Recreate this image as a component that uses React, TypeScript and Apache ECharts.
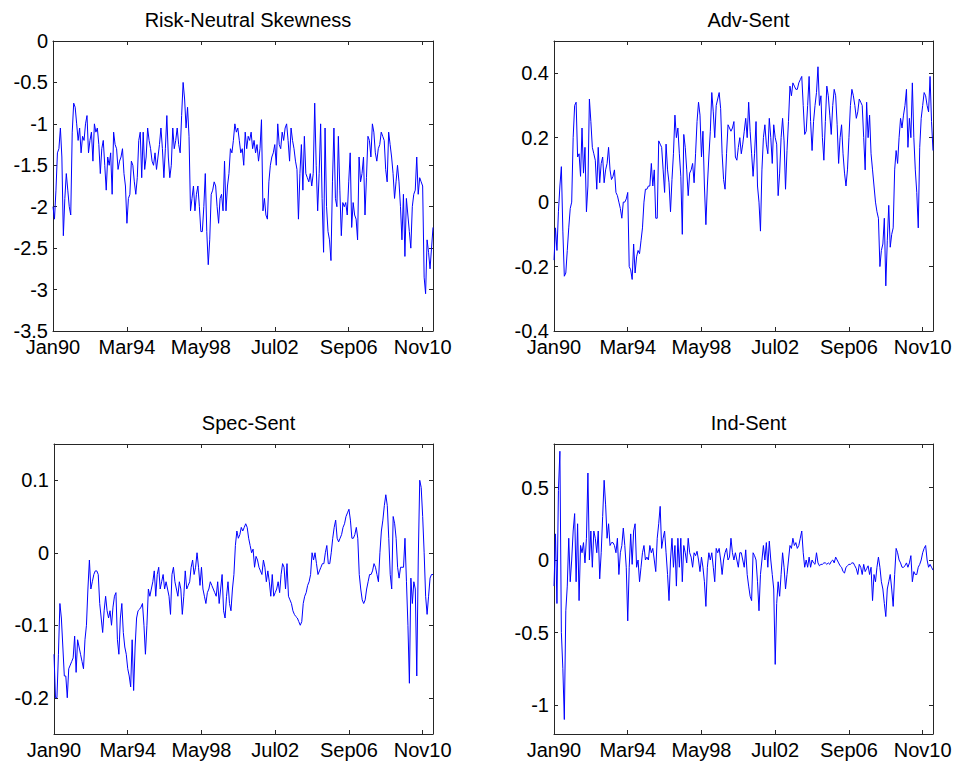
import React, { useEffect, useRef } from 'react';
import * as echarts from 'echarts';

// Monthly observations, Jan 1990 (index 0) to Jun 2011 (index 257)
const lastMonth = 257;
const tickMonths = [0, 50, 100, 150, 200, 250];
const tickLabels = ['Jan90', 'Mar94', 'May98', 'Jul02', 'Sep06', 'Nov10'];

const titles = ['Risk-Neutral Skewness', 'Adv-Sent', 'Spec-Sent', 'Ind-Sent'];

const skewness = [
  -2.0, -2.15, -1.8, -1.35, -1.3, -1.05, -1.4, -2.35, -1.9, -1.6,
  -1.8, -2.0, -2.1, -1.1, -0.75, -0.8, -1.0, -1.2, -1.05, -1.35,
  -1.15, -1.2, -1.0, -0.9, -1.35, -1.2, -1.1, -1.45, -1.0, -1.1,
  -1.05, -1.25, -1.6, -1.3, -1.2, -1.5, -1.8, -1.4, -1.5, -1.35,
  -1.85, -1.1, -1.25, -1.3, -1.55, -1.45, -1.4, -1.3, -1.6, -1.75,
  -2.2, -1.9, -1.85, -1.45, -1.5, -1.7, -1.85, -1.65, -1.2, -1.1,
  -1.65, -1.1, -1.55, -1.4, -1.05, -1.2, -1.3, -1.45, -1.5, -1.35,
  -1.55, -1.4, -1.25, -1.05, -1.3, -1.65, -1.3, -0.9, -1.4, -1.65,
  -1.5, -1.05, -1.3, -1.2, -1.05, -1.25, -1.35, -0.9, -0.5, -0.7,
  -1.05, -0.8, -1.15, -2.05, -1.9, -1.75, -2.05, -1.85, -1.75, -2.0,
  -2.3, -2.3, -2.0, -1.6, -2.3, -2.7, -2.4, -1.85, -1.8, -1.7,
  -1.75, -2.0, -2.2, -1.9, -1.85, -2.05, -1.45, -2.05, -1.75, -1.6,
  -1.3, -1.35, -1.2, -1.0, -1.1, -1.05, -1.2, -1.35, -1.3, -1.5,
  -1.1, -1.3, -1.15, -1.2, -1.1, -1.3, -1.2, -1.35, -1.25, -1.45,
  -1.3, -0.95, -2.05, -1.9, -2.1, -2.15, -1.7, -1.5, -1.4, -1.35,
  -1.25, -1.5, -1.0, -1.25, -1.3, -1.1, -1.2, -1.05, -1.0, -1.2,
  -1.45, -1.05, -1.2, -1.3, -1.45, -1.55, -2.15, -1.6, -1.25, -1.8,
  -1.15, -1.6, -1.65, -1.7, -1.6, -1.75, -1.6, -0.75, -1.5, -2.05,
  -1.6, -1.0, -1.9, -2.55, -1.05, -2.0, -2.3, -2.4, -2.65, -1.7,
  -1.05, -1.9, -2.0, -1.15, -1.8, -2.35, -1.95, -2.0, -1.95, -2.1,
  -1.7, -1.35, -2.25, -1.95, -2.1, -2.15, -2.4, -1.4, -1.7, -1.6,
  -1.4, -2.1, -1.65, -1.15, -1.2, -1.4, -1.0, -1.1, -1.35, -1.45,
  -1.3, -1.25, -1.1, -1.15, -1.2, -1.55, -1.7, -1.1, -1.25, -1.4,
  -1.6, -1.9, -1.7, -1.5, -1.7, -2.0, -2.4, -1.85, -2.6, -1.9,
  -2.1, -2.3, -2.5, -2.0, -1.85, -1.8, -1.4, -1.85, -1.65, -1.7,
  -1.75, -2.85, -3.05, -2.4, -2.55, -2.75, -2.5, -2.25,
];

const advSent = [
  -0.18, -0.08, -0.15, -0.03, 0.05, 0.11, -0.09, -0.23, -0.22, -0.15,
  -0.08, -0.02, 0.0, 0.2, 0.3, 0.31, 0.14, 0.15, 0.08, 0.23,
  0.09, 0.17, -0.03, 0.05, 0.32, 0.25, 0.17, 0.15, 0.13, 0.04,
  0.17, 0.06, 0.12, 0.14, 0.06, 0.1, 0.12, 0.17, 0.1, 0.07,
  0.08, 0.1, 0.03, 0.02, 0.0, -0.02, -0.05, 0.0, 0.0, 0.01,
  0.03, -0.2, -0.21, -0.24, -0.13, -0.22, -0.17, -0.15, -0.16, -0.12,
  -0.08, 0.0, 0.04, 0.04, 0.05, 0.05, 0.12, 0.05, 0.1, -0.05,
  -0.05, 0.19, 0.18, 0.17, 0.1, 0.03, 0.18, 0.1, 0.06, -0.03,
  0.07, 0.15, 0.27, 0.2, 0.23, 0.15, 0.08, -0.1, 0.21, 0.17,
  0.1, 0.02, 0.09, 0.1, 0.12, 0.06, 0.15, 0.25, 0.31, 0.27,
  0.14, 0.22, 0.05, -0.07, 0.05, 0.14, 0.22, 0.34, 0.28, 0.2,
  0.3, 0.32, 0.34, 0.29, 0.15, 0.07, 0.04, 0.15, 0.24, 0.23,
  0.22, 0.23, 0.25, 0.14, 0.13, 0.17, 0.2, 0.15, 0.18, 0.22,
  0.26, 0.2, 0.31, 0.22, 0.15, 0.08, 0.15, 0.25, 0.05, 0.0,
  -0.09, 0.1, 0.2, 0.24, 0.18, 0.15, 0.26, 0.2, 0.12, 0.24,
  0.2, 0.18, 0.02, 0.09, 0.2, 0.26, 0.19, 0.04, 0.16, 0.25,
  0.36, 0.33, 0.37, 0.36, 0.35, 0.35, 0.37, 0.38, 0.39, 0.3,
  0.21, 0.22, 0.3, 0.39, 0.25, 0.16, 0.25, 0.3, 0.34, 0.42,
  0.3, 0.33, 0.2, 0.13, 0.25, 0.36, 0.33, 0.27, 0.21, 0.3,
  0.35, 0.33, 0.24, 0.12, 0.2, 0.24, 0.15, 0.09, 0.05, 0.1,
  0.2, 0.3, 0.35, 0.33, 0.3, 0.26, 0.28, 0.32, 0.31, 0.3,
  0.2, 0.1, 0.31, 0.2, 0.27, 0.15, 0.1, 0.05, 0.0, -0.03,
  -0.05, -0.2, -0.15, -0.13, -0.05, -0.26, -0.12, -0.01, -0.14, -0.1,
  -0.08, 0.1, 0.16, 0.12, 0.2, 0.26, 0.23, 0.27, 0.3, 0.35,
  0.17, 0.26, 0.2, 0.37, 0.2, 0.1, 0.03, -0.08, 0.17, 0.26,
  0.3, 0.34, 0.33, 0.3, 0.28, 0.39, 0.25, 0.16,
];

const specSent = [
  -0.14, -0.2, -0.2, -0.14, -0.07, -0.09, -0.13, -0.17, -0.17, -0.2,
  -0.16, -0.155, -0.15, -0.145, -0.115, -0.165, -0.12, -0.13, -0.14, -0.15,
  -0.16, -0.12, -0.1, -0.05, -0.01, -0.05, -0.04, -0.03, -0.025, -0.025,
  -0.03, -0.07, -0.09, -0.11, -0.08, -0.06, -0.08, -0.09, -0.08, -0.1,
  -0.075, -0.06, -0.055, -0.12, -0.14, -0.09, -0.07, -0.11, -0.13, -0.14,
  -0.16, -0.17, -0.185, -0.12, -0.19, -0.13, -0.09, -0.08, -0.078, -0.075,
  -0.07, -0.1, -0.14, -0.1, -0.05, -0.06, -0.05, -0.04, -0.025, -0.06,
  -0.03, -0.02, -0.05, -0.04, -0.03, -0.05, -0.04, -0.05, -0.06, -0.085,
  -0.03, -0.02, -0.04, -0.05, -0.06, -0.04, -0.05, -0.085, -0.06, -0.025,
  -0.05, -0.045, -0.04, -0.02, -0.01, -0.03, -0.02, 0.0, -0.02, -0.045,
  -0.02, -0.05, -0.06, -0.07, -0.055, -0.05, -0.04, -0.045, -0.05, -0.055,
  -0.06, -0.04, -0.07, -0.05, -0.03, -0.08, -0.09, -0.06, -0.04, -0.07,
  -0.08, -0.05, -0.03, 0.01, 0.03, 0.02, 0.025, 0.035, 0.03, 0.035,
  0.04, 0.035, 0.02, 0.01, 0.0, 0.005, -0.02, -0.005, -0.01, -0.02,
  -0.025, -0.03, -0.01, -0.02, -0.04, -0.025, -0.04, -0.06, -0.03, -0.06,
  -0.055, -0.05, -0.04, -0.055, -0.03, -0.015, -0.02, -0.05, -0.015, -0.06,
  -0.065, -0.07, -0.08, -0.085, -0.088, -0.09, -0.095, -0.1, -0.095, -0.07,
  -0.06, -0.055, -0.045, -0.04, -0.03, 0.0, -0.01, 0.0, -0.015, -0.03,
  -0.025, -0.02, -0.015, -0.015, 0.0, 0.01, -0.015, -0.015, 0.0, 0.02,
  0.035, 0.045, 0.02, 0.015, 0.02, 0.025, 0.035, 0.04, 0.05, 0.055,
  0.06, 0.045, 0.02, 0.02, 0.025, 0.035, 0.02, -0.03, -0.05, -0.065,
  -0.07, -0.065, -0.05, -0.04, -0.03, -0.03, -0.025, -0.015, -0.02, -0.03,
  -0.04, 0.0, 0.03, 0.045, 0.065, 0.08, 0.065, 0.02, -0.03, -0.05,
  0.05, 0.04, 0.02, -0.02, -0.035, -0.02, -0.02, -0.02, 0.02, -0.04,
  -0.1, -0.18, -0.035, -0.07, -0.04, -0.05, -0.17, -0.01, 0.1, 0.09,
  0.05, 0.0, -0.06, -0.085, -0.06, -0.035, -0.03, -0.03,
];

const indSent = [
  -0.18, 0.18, -0.3, 0.48, 0.75, -0.5, -0.75, -1.1, -0.35, -0.18,
  0.15, -0.15, 0.0, 0.2, 0.32, -0.15, 0.25, -0.28, 0.1, 0.05,
  0.12, -0.02, 0.15, 0.6, 0.0, 0.2, -0.05, 0.2, 0.15, 0.05,
  0.2, -0.13, 0.05, 0.3, 0.55, 0.38, 0.15, 0.25, 0.1, 0.12,
  0.12, 0.1, 0.05, 0.15, -0.1, 0.05, 0.1, 0.22, 0.1, -0.05,
  -0.42, -0.05, 0.18, -0.03, 0.2, 0.25, -0.05, 0.0, -0.15, -0.05,
  0.05, 0.1, 0.0, 0.02, 0.0, 0.1, 0.05, 0.08, 0.0, -0.08,
  0.15, 0.25, 0.37, 0.08, 0.15, 0.2, 0.05, -0.1, -0.28, 0.0,
  0.15, -0.05, 0.1, -0.18, 0.15, -0.05, 0.15, -0.15, 0.1, 0.05,
  -0.02, 0.15, 0.05, 0.02, -0.05, 0.05, 0.03, 0.06, 0.0, -0.08,
  0.02, -0.05, -0.15, -0.32, -0.05, 0.05, 0.0, 0.05, -0.05, -0.15,
  0.08, 0.05, 0.08, 0.0, -0.1, 0.0, 0.05, 0.08, 0.0, 0.02,
  0.15, 0.05, 0.0, 0.05, 0.0, -0.05, 0.05, 0.05, 0.0, -0.05,
  0.07, -0.1, -0.18, -0.25, -0.28, 0.05, 0.03, 0.0, -0.15, -0.35,
  -0.1, 0.0, 0.1, 0.0, 0.12, -0.05, 0.13, 0.0, -0.1, -0.2,
  -0.72, -0.3, -0.15, -0.25, -0.1, 0.05, -0.05, -0.2, -0.1, 0.0,
  0.1, 0.08, 0.15, 0.1, 0.12, 0.08, 0.1, 0.15, 0.2, 0.05,
  -0.05, 0.0, -0.05, 0.02, -0.05, 0.0, -0.02, -0.03, 0.05, -0.02,
  -0.04, -0.03, -0.03, -0.02, -0.02, -0.03, -0.02, -0.03, -0.01, 0.0,
  -0.02, 0.02, 0.0, -0.02, -0.04, -0.05, -0.08, -0.09, -0.05, -0.04,
  -0.03, -0.03, -0.02, -0.02, -0.04, -0.06, -0.1, -0.03, -0.05, -0.1,
  -0.03, -0.08, -0.06, -0.04, -0.1, -0.05, -0.28, -0.1, -0.15, -0.05,
  0.02, -0.05, -0.15, -0.2, -0.3, -0.39, -0.2, -0.15, -0.1, -0.2,
  -0.32, -0.1, 0.08, 0.05, 0.0, -0.02, -0.05, -0.05, -0.04, -0.02,
  -0.05, -0.02, 0.03, -0.15, -0.08, -0.1, -0.1, -0.05, -0.03, 0.0,
  0.05, 0.08, 0.1, 0.0, -0.05, -0.03, -0.05, -0.07,
];

const seriesList = [skewness, advSent, specSent, indSent];

const yTicks1 = [-3.5, -3, -2.5, -2, -1.5, -1, -0.5, 0];
const yTicks2 = [-0.4, -0.2, 0, 0.2, 0.4];
const yTicks3 = [-0.2, -0.1, 0, 0.1];
const yTicks4 = [-1, -0.5, 0, 0.5];
const yTickList = [yTicks1, yTicks2, yTicks3, yTicks4];
const yRanges = [
  [-3.5, 0],
  [-0.4, 0.5],
  [-0.25, 0.15],
  [-1.2, 0.8],
];

const FONT = '"Liberation Sans", Arial, Helvetica, sans-serif';
const AXIS_COLOR = '#262626';

const layout = [
  { left: 53, top: 41, width: 380, height: 290, titleTop: 5 },
  { left: 554, top: 41, width: 379, height: 290, titleTop: 5 },
  { left: 54, top: 444, width: 379, height: 290, titleTop: 408 },
  { left: 554, top: 444, width: 379, height: 290, titleTop: 408 },
];

function buildOption() {
  const grid: any[] = [];
  const xAxis: any[] = [];
  const yAxis: any[] = [];
  const series: any[] = [];
  const title: any[] = [];

  layout.forEach((p, i) => {
    grid.push({ left: p.left, top: p.top, width: p.width, height: p.height, containLabel: false, show: false });
    title.push({
      text: titles[i],
      left: p.left + p.width / 2,
      top: p.titleTop,
      textAlign: 'center',
      textStyle: { fontSize: 20, fontWeight: 'normal', color: '#000', fontFamily: FONT },
    });
    const axisLine = { show: true, onZero: false, lineStyle: { color: AXIS_COLOR, width: 1 } };
    const xTick = { show: true, inside: true, length: 4, customValues: tickMonths, lineStyle: { color: AXIS_COLOR, width: 1 } };
    xAxis.push({
      type: 'value', gridIndex: i, min: 0, max: lastMonth, position: 'bottom',
      axisLine, axisTick: xTick, splitLine: { show: false },
      axisLabel: {
        show: true, customValues: tickMonths, margin: 6, fontSize: 20, color: '#000', fontFamily: FONT,
        formatter: (v: number) => {
          const k = tickMonths.indexOf(v);
          return k >= 0 ? tickLabels[k] : '';
        },
      },
    });
    xAxis.push({
      type: 'value', gridIndex: i, min: 0, max: lastMonth, position: 'top',
      axisLine, axisTick: xTick, splitLine: { show: false }, axisLabel: { show: false },
    });
    const yt = yTickList[i];
    const yTick = { show: true, inside: true, length: 4, customValues: yt, lineStyle: { color: AXIS_COLOR, width: 1 } };
    yAxis.push({
      type: 'value', gridIndex: i, min: yRanges[i][0], max: yRanges[i][1], position: 'left',
      axisLine, axisTick: yTick, splitLine: { show: false },
      axisLabel: { show: true, customValues: yt, margin: 5, fontSize: 20, color: '#000', fontFamily: FONT },
    });
    yAxis.push({
      type: 'value', gridIndex: i, min: yRanges[i][0], max: yRanges[i][1], position: 'right',
      axisLine, axisTick: yTick, splitLine: { show: false }, axisLabel: { show: false },
    });
    series.push({
      type: 'line',
      xAxisIndex: 2 * i,
      yAxisIndex: 2 * i,
      data: seriesList[i].map((v, k) => [k, v]),
      symbol: 'none',
      showSymbol: false,
      lineStyle: { color: '#0000ff', width: 1 },
      itemStyle: { color: '#0000ff' },
      clip: true,
    });
  });

  return {
    animation: false,
    backgroundColor: '#ffffff',
    title,
    grid,
    xAxis,
    yAxis,
    series,
  };
}

export default function App() {
  const ref = useRef<HTMLDivElement>(null);
  useEffect(() => {
    if (!ref.current) return;
    const chart = echarts.init(ref.current, null, { renderer: 'svg' });
    chart.setOption(buildOption() as any);
    return () => chart.dispose();
  }, []);
  return (
    <div
      ref={ref}
      style={{ position: 'absolute', left: 0, top: 0, width: 957, height: 765, background: '#fff' }}
    />
  );
}
